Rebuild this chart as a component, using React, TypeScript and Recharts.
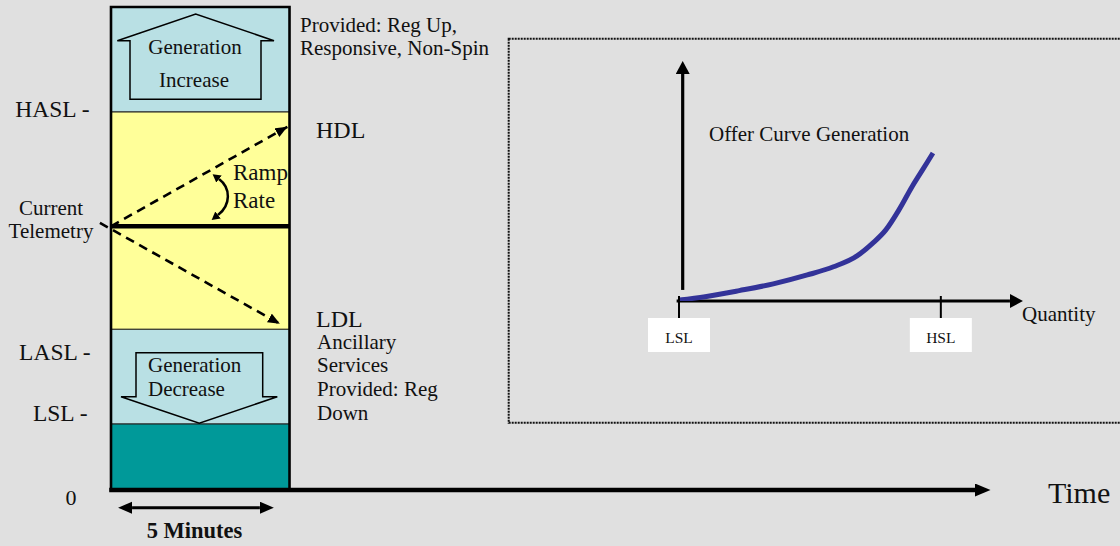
import React from 'react';
import { ComposedChart, XAxis, YAxis, ReferenceArea, ReferenceLine, Line } from 'recharts';

// ---------- data (left: 5-minute dispatch column, values in % of capacity) ----------
const levelTickValues = [0, 13.7, 33.3, 78.3];
const levelTickLabels = ['0', 'LSL -', 'LASL -', 'HASL -'];

const bandNames = ['Below LSL', 'Reg Down range', 'Dispatchable range', 'Reg Up / Responsive / Non-Spin range'];
const bandBottoms = [0, 13.7, 33.3, 78.3];
const bandTops = [13.7, 33.3, 78.3, 100];

const intervalMinutes = [0, 5];
const currentTelemetry = 54.6;
const rampTargetNames = ['HDL', 'LDL'];
const rampTargetValues = [75.2, 34.4];
const rampTargetMinutes = [4.94, 4.73];
const rampStartMinutes = [0, -0.31];
const rampStartValues = [54.6, 55.3];
const timeAxisEndMinutes = 24.2;

// ---------- data (right: offer curve) ----------
const offerQuantity = [-0.5, 10, 23, 36, 49, 59, 68, 74, 79, 84, 89, 93, 97];
const offerPrice = [0.3, 1.8, 4.3, 7.1, 10.8, 14.2, 18.7, 24, 29.5, 37.8, 47.4, 54.4, 61.4];
const quantityTickValues = [0, 100];
const quantityTickLabels = ['LSL', 'HSL'];

// ---------- styles ----------
const FONT = '"Liberation Serif", "Times New Roman", serif';
const BG = '#e0e0e0';
const bandFills = ['#009999', '#b9e0e4', '#ffff99', '#b9e0e4'];

const yLabelStyle: Record<string, { x: number; dy: number; anchor: 'start' | 'middle' | 'end'; size: number }> = {
  '0': { x: 71, dy: 15, anchor: 'middle', size: 22 },
  'LSL -': { x: 87.5, dy: -3, anchor: 'end', size: 23.5 },
  'LASL -': { x: 90.7, dy: 30.7, anchor: 'end', size: 23.5 },
  'HASL -': { x: 89.5, dy: 4.7, anchor: 'end', size: 23.5 },
};

const LevelTick = (props: any) => {
  const { y, payload } = props;
  const idx = levelTickValues.indexOf(payload.value);
  const label = levelTickLabels[idx];
  const s = yLabelStyle[label];
  if (!s) return null;
  return (
    <text x={s.x} y={y + s.dy} textAnchor={s.anchor} fontSize={s.size} fontFamily={FONT} fill="#111">
      {label}
    </text>
  );
};

const QuantityTick = (props: any) => {
  const { x, y, payload } = props;
  const idx = quantityTickValues.indexOf(payload.value);
  const label = quantityTickLabels[idx];
  return (
    <g>
      <line x1={x} y1={y - 5} x2={x} y2={y + 17} stroke="#000" strokeWidth={2} />
      <rect x={x - 31} y={y + 17} width={62} height={34} fill="#ffffff" />
      <text x={x} y={y + 41.5} textAnchor="middle" fontSize={15.5} fontFamily={FONT} fill="#111">
        {label}
      </text>
    </g>
  );
};

const arrowLine =
  (opts: { w: number; dash?: string; start?: string; end?: string; color?: string }) => (p: any) => (
    <line
      x1={p.x1}
      y1={p.y1}
      x2={p.x2}
      y2={p.y2}
      stroke={opts.color || '#000'}
      strokeWidth={opts.w}
      strokeDasharray={opts.dash}
      markerStart={opts.start ? `url(#${opts.start})` : undefined}
      markerEnd={opts.end ? `url(#${opts.end})` : undefined}
    />
  );

const Markers = () => (
  <svg width={0} height={0} style={{ position: 'absolute', left: 0, top: 0 }}>
    <defs>
      <marker id="mTime" markerUnits="userSpaceOnUse" markerWidth={16} markerHeight={14} refX={0} refY={6.5} orient="auto">
        <path d="M0,0 L15.5,6.5 L0,13 z" fill="#000" />
      </marker>
      <marker id="mAxis" markerUnits="userSpaceOnUse" markerWidth={14} markerHeight={14} refX={0} refY={7} orient="auto">
        <path d="M0,0 L13,7 L0,14 z" fill="#000" />
      </marker>
      <marker id="mDash" markerUnits="userSpaceOnUse" markerWidth={13} markerHeight={11} refX={12} refY={5} orient="auto">
        <path d="M0,0 L12,5 L0,10 z" fill="#000" />
      </marker>
      <marker id="mDouble" markerUnits="userSpaceOnUse" markerWidth={15} markerHeight={13} refX={0} refY={6} orient="auto-start-reverse">
        <path d="M0,0 L14,6 L0,12 z" fill="#000" />
      </marker>
      <marker id="mSmall" markerUnits="userSpaceOnUse" markerWidth={10} markerHeight={10} refX={0} refY={4.5} orient="auto-start-reverse">
        <path d="M0,0 L8,4.5 L0,9 z" fill="#000" />
      </marker>
    </defs>
  </svg>
);

const T = (p: { x: number; y: number; s?: number; a?: 'start' | 'middle' | 'end'; b?: boolean; children: string }) => (
  <text
    x={p.x}
    y={p.y}
    fontSize={p.s || 21}
    textAnchor={p.a || 'start'}
    fontWeight={p.b ? 'bold' : 'normal'}
    fontFamily={FONT}
    fill="#111"
  >
    {p.children}
  </text>
);

const Overlay = () => (
  <svg width={1120} height={546} style={{ position: 'absolute', left: 0, top: 0, pointerEvents: 'none' }}>
    {/* generation increase / decrease block arrows */}
    <polygon
      points="130,99.3 130,40.7 117.3,40.7 195.7,14 274,40.7 261,40.7 261,99.3"
      fill="#b9e0e4"
      stroke="#000"
      strokeWidth={1.5}
    />
    <polygon
      points="136,352.7 262.7,352.7 262.7,396.7 277.3,396.7 199.3,423.3 121,396.7 136,396.7"
      fill="#b9e0e4"
      stroke="#000"
      strokeWidth={1.5}
    />
    {/* ramp rate curved arrow */}
    <path
      d="M219,179 C231,188 231,205 218,215"
      fill="none"
      stroke="#000"
      strokeWidth={2.5}
      markerStart="url(#mSmall)"
      markerEnd="url(#mSmall)"
    />
    {/* offer-curve frame */}
    <rect x={508.7} y={38.7} width={640} height={384} fill="none" stroke="#111" strokeWidth={2} strokeDasharray="2 1" />

    <T x={195} y={54} a="middle">Generation</T>
    <T x={194} y={87} a="middle">Increase</T>
    <T x={148} y={371.7}>Generation</T>
    <T x={148} y={396}>Decrease</T>
    <T x={300} y={32}>Provided: Reg Up,</T>
    <T x={300} y={55}>Responsive, Non-Spin</T>
    <T x={316} y={138} s={24}>HDL</T>
    <T x={316} y={326.5} s={24}>LDL</T>
    <T x={317} y={349}>Ancillary</T>
    <T x={317} y={372}>Services</T>
    <T x={317} y={396}>Provided: Reg</T>
    <T x={317} y={420}>Down</T>
    <T x={233} y={180} s={23}>Ramp</T>
    <T x={233} y={208} s={23}>Rate</T>
    <T x={51} y={215} a="middle">Current</T>
    <T x={51} y={238} a="middle">Telemetry</T>
    <T x={194.5} y={538} s={22.5} a="middle" b>5 Minutes</T>
    <T x={1048} y={503.3} s={30}>Time</T>
    <T x={709} y={140.7}>Offer Curve Generation</T>
    <T x={1022} y={320.7}>Quantity</T>
  </svg>
);

const offerData = offerQuantity.map((q, i) => ({ q, p: offerPrice[i] }));

export default function App() {
  return (
    <div
      style={{
        position: 'fixed',
        left: 0,
        top: 0,
        width: 1120,
        height: 546,
        background: BG,
        overflow: 'hidden',
        fontFamily: FONT,
      }}
    >
      <Markers />
      {/* Left: dispatch column over time */}
      <div style={{ position: 'absolute', left: 0, top: 0 }}>
        <ComposedChart width={1120} height={546} margin={{ top: 7, right: 130, bottom: 56, left: 0 }}>
          <XAxis type="number" dataKey="m" domain={[0, 24.62]} hide allowDataOverflow />
          <YAxis
            type="number"
            domain={[0, 100]}
            width={111}
            ticks={levelTickValues}
            axisLine={false}
            tickLine={false}
            tick={<LevelTick />}
            interval={0}
            allowDataOverflow
          />
          {bandNames.map((n, i) => (
            <ReferenceArea
              key={n}
              x1={intervalMinutes[0]}
              x2={intervalMinutes[1]}
              y1={bandBottoms[i]}
              y2={bandTops[i]}
              fill={bandFills[i]}
              fillOpacity={1}
              stroke="#222"
              strokeWidth={1}
              ifOverflow="visible"
            />
          ))}
          <ReferenceArea
            x1={intervalMinutes[0]}
            x2={intervalMinutes[1]}
            y1={bandBottoms[0]}
            y2={bandTops[bandTops.length - 1]}
            fill="none"
            fillOpacity={0}
            stroke="#000"
            strokeWidth={2.6}
            ifOverflow="visible"
          />
          <ReferenceLine
            segment={[
              { x: intervalMinutes[0], y: currentTelemetry },
              { x: intervalMinutes[1], y: currentTelemetry },
            ]}
            stroke="#000"
            strokeWidth={4.5}
            ifOverflow="visible"
          />
          {rampTargetNames.map((n, i) => (
            <ReferenceLine
              key={n}
              segment={[
                { x: rampStartMinutes[i], y: rampStartValues[i] },
                { x: rampTargetMinutes[i], y: rampTargetValues[i] },
              ]}
              ifOverflow="visible"
              shape={arrowLine({ w: 2.6, dash: '9 6', end: 'mDash' })}
            />
          ))}
          <ReferenceLine
            segment={[
              { x: -0.05, y: 0 },
              { x: timeAxisEndMinutes, y: 0 },
            ]}
            ifOverflow="visible"
            shape={arrowLine({ w: 4.6, end: 'mTime' })}
          />
          <ReferenceLine
            segment={[
              { x: 0.59, y: -3.66 },
              { x: 4.17, y: -3.66 },
            ]}
            ifOverflow="visible"
            shape={arrowLine({ w: 3, start: 'mDouble', end: 'mDouble' })}
          />
        </ComposedChart>
      </div>
      {/* Right: offer curve */}
      <div style={{ position: 'absolute', left: 0, top: 0 }}>
        <ComposedChart
          width={1120}
          height={546}
          data={offerData}
          margin={{ top: 60, right: 98, bottom: 195, left: 679 }}
        >
          <XAxis
            type="number"
            dataKey="q"
            domain={[0, 131]}
            ticks={quantityTickValues}
            interval={0}
            height={50}
            axisLine={false}
            tickLine={false}
            tickSize={0}
            tickMargin={0}
            tick={<QuantityTick />}
            allowDataOverflow
          />
          <YAxis type="number" domain={[0, 100]} hide allowDataOverflow />
          <ReferenceLine
            segment={[
              { x: -0.9, y: 0 },
              { x: 126.4, y: 0 },
            ]}
            ifOverflow="visible"
            shape={arrowLine({ w: 3, end: 'mAxis' })}
          />
          <ReferenceLine
            segment={[
              { x: 1.41, y: 4.6 },
              { x: 1.41, y: 94.2 },
            ]}
            ifOverflow="visible"
            shape={arrowLine({ w: 3.2, end: 'mAxis' })}
          />
          <Line
            type="monotone"
            dataKey="p"
            stroke="#333399"
            strokeWidth={5}
            dot={false}
            isAnimationActive={false}
          />
        </ComposedChart>
      </div>
      <Overlay />
    </div>
  );
}
